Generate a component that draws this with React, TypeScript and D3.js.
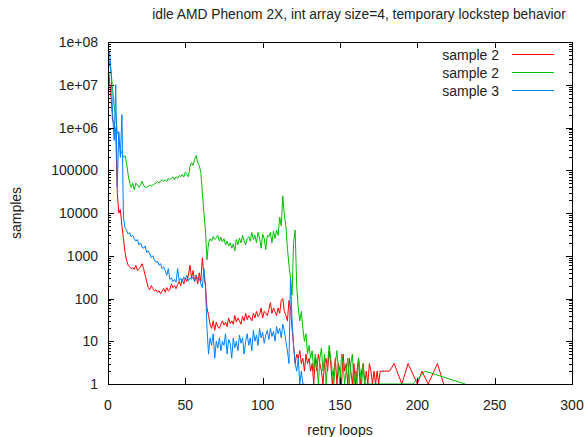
import React from 'react'
import { scaleLinear, scaleLog, line } from 'd3'

// samples per retry-loop count (index = retry loops), 0 = none
const red = [
  3e7, 1.2e7, 5e6, 1.5e6, 1.2e6, 8e5, 3e4, 1e4, 1.2e4, 5000,
  2500, 1200, 800, 600, 550, 500, 520, 480, 600, 450,
  500, 550, 650, 500, 350, 250, 180, 160, 200, 170,
  150, 160, 140, 150, 130, 150, 170, 140, 180, 150,
  160, 220, 180, 200, 170, 210, 250, 200, 280, 220,
  300, 250, 350, 600, 300, 450, 250, 350, 220, 400,
  250, 900, 350, 200, 60, 40, 25, 20, 30, 18,
  28, 22, 20, 25, 30, 24, 28, 22, 35, 26,
  30, 25, 40, 28, 35, 30, 25, 38, 30, 45,
  32, 40, 35, 30, 45, 35, 50, 38, 42, 60,
  35, 50, 45, 40, 55, 80, 45, 60, 50, 40,
  60, 45, 90, 100, 50, 40, 30, 90, 60, 20,
  8, 3, 5, 4, 6, 3, 4, 2, 5, 3,
  4, 2, 3, 1, 4, 2, 5, 3, 2, 1,
  3, 4, 2, 6, 3, 1, 2, 4, 1, 3,
  2, 1, 5, 2, 3, 1, 4, 2, 1, 3,
  1, 2, 4, 1, 2, 3, 1, 2, 1, 3,
  2, 1, 2, 1, 2, 1, 2,
]
const redTail: [number, number][] = [
  [182, 2], [185, 3], [190, 1], [194, 3], [200, 1], [203, 2], [207, 1], [213, 3], [217, 1],
]

const green = [
  6e7, 3e7, 2e7, 8e6, 3e6, 2e6, 8e5, 6e5, 3e5, 2.5e5,
  2e5, 2.2e5, 1.5e5, 8e4, 5e4, 4e4, 5e4, 3.5e4, 5e4, 4.5e4,
  4e4, 4.5e4, 5.5e4, 4.5e4, 4e4, 4e4, 4.2e4, 4.5e4, 4.3e4, 4.5e4,
  4.8e4, 5e4, 5.5e4, 5e4, 5.5e4, 6e4, 5.5e4, 6e4, 5.5e4, 6.5e4,
  6e4, 6.5e4, 7e4, 6e4, 7e4, 6.5e4, 7.5e4, 7e4, 8e4, 7e4,
  9e4, 8e4, 7e4, 1.2e5, 1.5e5, 1.3e5, 1.8e5, 2.2e5, 1.5e5, 1.3e5,
  9e4, 3e4, 1e4, 4000, 800, 2000, 2500, 2200, 2800, 2400,
  2600, 3000, 2200, 2700, 2100, 2500, 1800, 2200, 1700, 2000,
  1500, 1900, 1300, 2400, 1800, 2600, 2000, 3000, 2200, 1800,
  2500, 2800, 2200, 3500, 2400, 3000, 2000, 3500, 2600, 1500,
  3200, 2500, 1400, 3000, 2800, 3500, 2000, 3800, 2500, 4000,
  3000, 8000, 5000, 25000, 9000, 5000, 1500, 600, 300, 120,
  2000, 4000, 200, 60, 30, 50, 20, 10, 15, 5,
  8, 4, 6, 2, 5, 3, 1, 4, 7, 2,
  5, 1, 3, 8, 4, 2, 1, 3, 6, 2,
  1, 5, 3, 1, 2, 4, 1, 3, 5, 1,
  2, 1, 4, 2, 1, 3, 1,
]
const greenTail: [number, number][] = [[197, 1], [205, 2], [231, 1]]

const blue = [
  5e7, 6e7, 2e7, 2e6, 5e5, 1e7, 4e4, 8e5, 2e5, 2e6,
  8000, 4500, 4000, 3200, 3500, 2800, 3000, 2500, 2200, 2400,
  1800, 2000, 1600, 1500, 1700, 1200, 1300, 1100, 900, 1000,
  800, 700, 750, 600, 650, 500, 550, 450, 350, 500,
  280, 300, 250, 280, 240, 500, 260, 300, 250, 320,
  280, 350, 260, 300, 280, 320, 250, 350, 280, 300,
  220, 180, 500, 200, 20, 5, 12, 8, 15, 4,
  10, 7, 12, 6, 10, 8, 15, 5, 11, 9,
  4, 12, 7, 10, 6, 14, 9, 12, 5, 10,
  15, 8, 12, 6, 18, 10, 14, 8, 20, 12,
  16, 9, 14, 18, 11, 20, 13, 17, 10, 22,
  15, 20, 12, 25, 18, 10, 6, 3, 300, 30,
  8, 3, 2, 4, 1, 2, 1, 1,
]

const yTicks = [1, 10, 100, 1000, 10000, 100000, 1e6, 1e7, 1e8]
const yTickLabels = ['1', '10', '100', '1000', '10000', '100000', '1e+06', '1e+07', '1e+08']
const xTicks = [0, 50, 100, 150, 200, 250, 300]

const title = 'idle AMD Phenom 2X, int array size=4, temporary lockstep behavior'
const legend = [
  { label: 'sample 2', color: '#ff0000' },
  { label: 'sample 2', color: '#00c000' },
  { label: 'sample 3', color: '#0080ff' },
]

const W = 587
const H = 437
const m = { left: 108, right: 572, top: 42, bottom: 384 }
const font = 'Liberation Sans, Arial, sans-serif'

function toPts(arr: number[], tail: [number, number][] = []): [number, number][] {
  const pts: [number, number][] = arr.map((v, i) => [i, v])
  return pts.concat(tail).filter(d => d[1] > 0)
}

export default function App() {
  const x = scaleLinear().domain([0, 300]).range([m.left, m.right])
  const y = scaleLog().domain([1, 1e8]).range([m.bottom, m.top])

  const path = line<[number, number]>()
    .x(d => x(d[0]))
    .y(d => y(d[1]))

  const series = [
    { pts: toPts(red, redTail), color: legend[0].color },
    { pts: toPts(green, greenTail), color: legend[1].color },
    { pts: toPts(blue), color: legend[2].color },
  ]

  const minor: number[] = []
  for (let k = 0; k < 8; k++) {
    for (let j = 2; j < 10; j++) minor.push(j * Math.pow(10, k))
  }

  return (
    <svg width={W} height={H} style={{ position: 'absolute', left: 0, top: 0, background: '#fff' }}>
      <g clipPath="url(#plot)">
        <clipPath id="plot">
          <rect x={m.left} y={m.top} width={m.right - m.left} height={m.bottom - m.top} />
        </clipPath>
        {series.map((s, i) => (
          <path key={i} d={path(s.pts) || ''} fill="none" stroke={s.color} strokeWidth={1} />
        ))}
      </g>

      {/* frame */}
      <rect x={m.left + 0.5} y={m.top + 0.5} width={m.right - m.left} height={m.bottom - m.top}
        fill="none" stroke="#000" strokeWidth={1} shapeRendering="crispEdges" />

      {/* ticks, mirrored on all sides */}
      <g shapeRendering="crispEdges" stroke="#000">
        {yTicks.map(t => (
          <g key={t}>
            <line x1={m.left} x2={m.left + 6} y1={Math.round(y(t)) + 0.5} y2={Math.round(y(t)) + 0.5} />
            <line x1={m.right - 6} x2={m.right} y1={Math.round(y(t)) + 0.5} y2={Math.round(y(t)) + 0.5} />
          </g>
        ))}
        {minor.map(t => (
          <g key={t}>
            <line x1={m.left} x2={m.left + 3} y1={Math.round(y(t)) + 0.5} y2={Math.round(y(t)) + 0.5} />
            <line x1={m.right - 3} x2={m.right} y1={Math.round(y(t)) + 0.5} y2={Math.round(y(t)) + 0.5} />
          </g>
        ))}
        {xTicks.map(t => (
          <g key={t}>
            <line x1={Math.round(x(t)) + 0.5} x2={Math.round(x(t)) + 0.5} y1={m.bottom} y2={m.bottom - 6} />
            <line x1={Math.round(x(t)) + 0.5} x2={Math.round(x(t)) + 0.5} y1={m.top} y2={m.top + 6} />
          </g>
        ))}
      </g>

      <g fontFamily={font} fontSize={14} fill="#222">
        {yTicks.map((t, i) => (
          <text key={t} x={m.left - 10} y={y(t)} dy="0.36em" textAnchor="end">{yTickLabels[i]}</text>
        ))}
        {xTicks.map(t => (
          <text key={t} x={x(t)} y={m.bottom + 21} dy="0.36em" textAnchor="middle">{t}</text>
        ))}
        <text x={359} y={14} dy="0.36em" textAnchor="middle" fontSize={13.8}>{title}</text>
        <text x={(m.left + m.right) / 2} y={430} dy="0.36em" textAnchor="middle">retry loops</text>
        <text transform={`translate(16,213) rotate(-90)`} dy="0.36em" textAnchor="middle">samples</text>
        {legend.map((l, i) => (
          <g key={i}>
            <text x={499} y={55 + i * 18} dy="0.36em" textAnchor="end">{l.label}</text>
            <line x1={512} x2={554} y1={54.5 + i * 18} y2={54.5 + i * 18} stroke={l.color} strokeWidth={1} />
          </g>
        ))}
      </g>
    </svg>
  )
}
